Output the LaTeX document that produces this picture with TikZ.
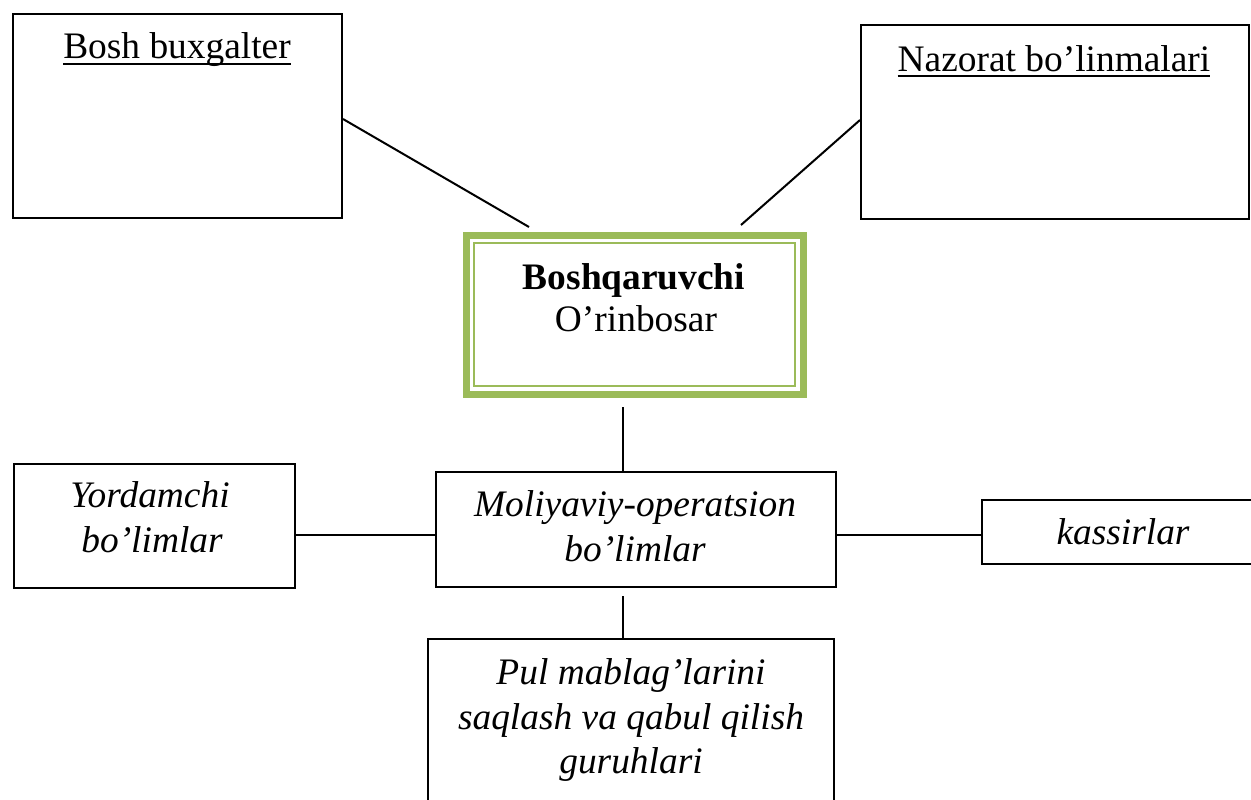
\documentclass[tikz,border=0pt]{standalone}
\usepackage{fontspec}
\setmainfont{Liberation Serif}
\definecolor{leafgreen}{HTML}{9BBB59}
\begin{document}
\begin{tikzpicture}[x=1pt,y=-1pt,
  box/.style={draw=black, line width=2pt, anchor=north west, inner sep=0pt},
  wire/.style={draw=black, line width=2pt},
  txt/.style={inner sep=0pt, anchor=base, font=\fontsize{37.4}{45}\selectfont},
  itxt/.style={inner sep=0pt, anchor=base, font=\fontsize{37.4}{45}\selectfont\itshape},
  uline/.style={draw=black, line width=2.5pt}]
\useasboundingbox (0,0) rectangle (1251,800);
\clip (0,0) rectangle (1251,800);

% top boxes
\node[box, minimum width=329pt, minimum height=204pt] (bosh) at (12,13) {};
\node[box, minimum width=388pt, minimum height=194pt] (nazorat) at (860,24) {};
\node[txt] (boshT) at (177,59) {Bosh buxgalter};
\node[txt] (nazoratT) at (1054,71) {Nazorat bo’linmalari};
\draw[uline] ([yshift=-5pt]boshT.base west) -- ([yshift=-5pt]boshT.base east);
\draw[uline] ([yshift=-5pt]nazoratT.base west) -- ([yshift=-5pt]nazoratT.base east);

% head box with thick-thin green frame
\node[draw=leafgreen, line width=7pt, inner sep=0pt, minimum width=336.5pt, minimum height=159pt] (head) at (634.75,315) {};
\draw[leafgreen, line width=2pt] ([xshift=11pt,yshift=-11pt]head.north west) rectangle ([xshift=-11.5pt,yshift=12pt]head.south east);
\node[txt, font=\fontsize{37.4}{45}\selectfont\bfseries] (headA) at (634,289) {Boshqaruvchi};
\node[txt] (headB) at (636,331) {O’rinbosar};

% middle row
\node[box, minimum width=400pt, minimum height=115pt] (moliya) at (435,471) {};
\node[box, minimum width=281pt, minimum height=124pt] (yordam) at (13,463) {};
\node[box, minimum width=290pt, minimum height=64pt] (kassa) at (981,499) {};
\node[itxt] (moliyaA) at (635,516) {Moliyaviy-operatsion};
\node[itxt] (moliyaB) at (635,561) {bo’limlar};
\node[itxt] (yordamA) at (150,507) {Yordamchi};
\node[itxt] (yordamB) at (152,552) {bo’limlar};
\node[itxt] (kassaT) at (1123,544) {kassirlar};

% bottom box
\node[box, minimum width=406pt, minimum height=200pt] (pul) at (427,638) {};
\node[itxt] (pulA) at (631,684) {Pul mablag’larini};
\node[itxt] (pulB) at (631,729) {saqlash va qabul qilish};
\node[itxt] (pulC) at (631,773) {guruhlari};

% connector ends
\coordinate (bEnd) at (529,227);
\coordinate (nEnd) at (741,225);
\coordinate (hDown) at (623,407);
\coordinate (mUp) at (623,471);
\coordinate (mDown) at (623,596);
\coordinate (pUp) at (623,638);
\coordinate (rowY) at (0,535);

\draw[wire] (bosh.east |- 0,119) -- (bEnd);
\draw[wire] (nazorat.west |- 0,120) -- (nEnd);
\draw[wire] (hDown) -- (mUp);
\draw[wire] (mDown) -- (pUp);
\draw[wire] (yordam.east |- rowY) -- (moliya.west |- rowY);
\draw[wire] (moliya.east |- rowY) -- (kassa.west |- rowY);
\end{tikzpicture}
\end{document}
